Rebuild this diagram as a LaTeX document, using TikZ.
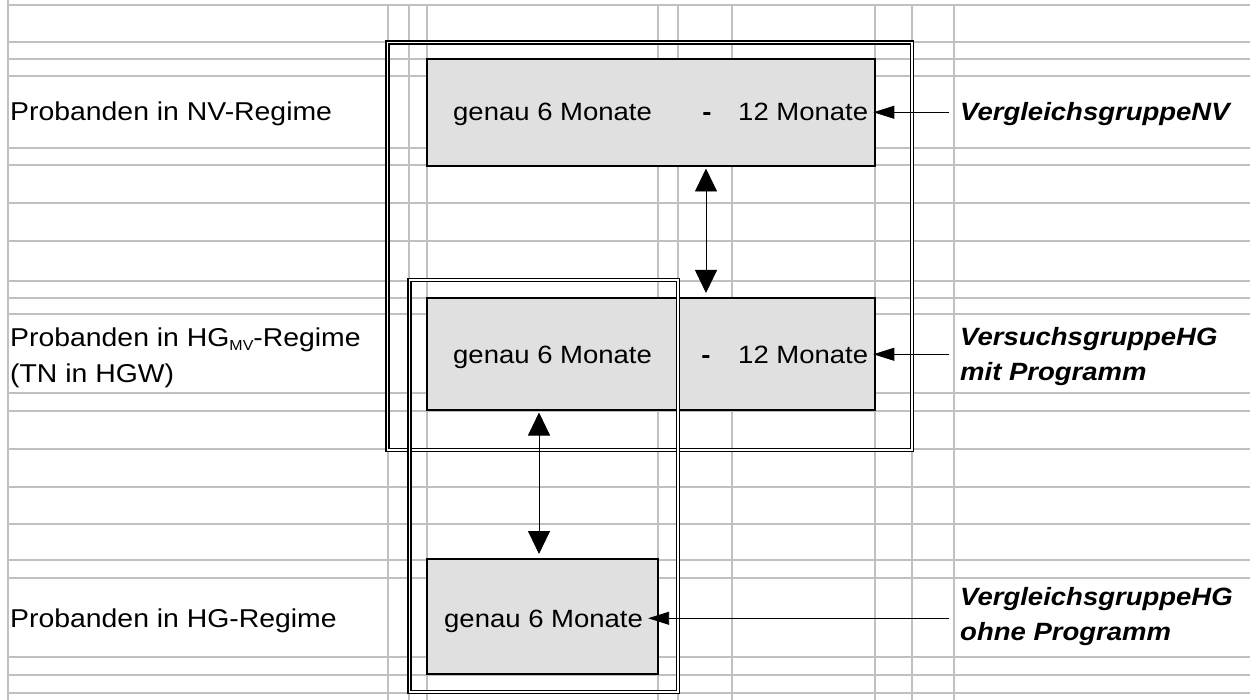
\documentclass[tikz,border=0pt]{standalone}
\usepackage{fontspec}
\setmainfont[FakeStretch=1.1]{Liberation Sans}
\usetikzlibrary{arrows.meta}
\definecolor{gridgray}{HTML}{C0C0C0}
\definecolor{boxgray}{HTML}{E0E0E0}

\begin{document}
\begin{tikzpicture}[x=1pt,y=-1pt,
  gridline/.style={draw=gridgray,line width=1.7pt},
  cellbox/.style={draw=black,line width=2.2pt,fill=boxgray,inner sep=0pt,outer sep=0pt},
  frame/.style={draw=black,line width=1.7pt,double=white,double distance=1.4pt},
  txt/.style={font=\fontsize{25}{36}\selectfont,inner xsep=5pt,inner ysep=0pt,text depth=0pt,anchor=base west},
  rowlabel/.style={font=\fontsize{25.8}{36}\selectfont,align=left,inner sep=0pt,anchor=base west},
  grouplabel/.style={font=\fontsize{25}{35}\selectfont\bfseries\itshape,align=left,inner xsep=11pt,inner ysep=0pt,anchor=base west},
  dashmark/.style={font=\fontsize{25}{36}\selectfont\bfseries,inner sep=0pt,anchor=base},
  pair/.style={{Triangle[width=22pt,length=23pt]}-{Triangle[width=22pt,length=23pt]},line width=0.9pt,shorten <=2.5pt,shorten >=5pt},
  pointer/.style={-{Triangle[width=13pt,length=21pt]},line width=0.9pt},
]
\useasboundingbox (0,0) rectangle (1250,700);

% spreadsheet grid
\foreach \y in {5,42,59,76,148,165,203,241,281,298,314,393,411,449,487,524,560,578,657,675,693}
  \draw[gridline] (8,\y) -- (1250,\y);
\draw[gridline] (8,0) -- (8,700);
\foreach \x in {388,409,427,658,678,732,875,912,954}
  \draw[gridline] (\x,5) -- (\x,700);

% period boxes
\node[cellbox,minimum width=448pt,minimum height=107pt] (b1) at (651,112.5) {};
\node[cellbox,minimum width=448pt,minimum height=112pt] (b2) at (651,354) {};
\node[cellbox,minimum width=231pt,minimum height=115pt] (b3) at (542.5,616.5) {};

% texts inside the boxes
\node[txt] (t1a) at (448,121) {genau 6 Monate};
\node[dashmark] (t1d) at (707,121) {-};
\node[txt] (t1b) at (733,121) {12 Monate};
\node[txt] (t2a) at (448,363) {genau 6 Monate};
\node[dashmark] (t2d) at (706,363) {-};
\node[txt] (t2b) at (733,363) {12 Monate};
\node[txt] (t3a) at (439,627) {genau 6 Monate};

% row labels (multi-line nodes sit on their last baseline)
\node[rowlabel] (lnv) at (10,121) {Probanden in NV-Regime};
\node[rowlabel] (lmv) at (10,383) {Probanden in HG\raisebox{-4pt}{\fontsize{14.5}{14.5}\selectfont MV}-Regime\\(TN in HGW)};
\node[rowlabel] (lhg) at (10,627) {Probanden in HG-Regime};

% group labels
\node[grouplabel] (r1) at (949,121) {VergleichsgruppeNV};
\node[grouplabel] (r2) at (949,381) {VersuchsgruppeHG\\mit Programm};
\node[grouplabel] (r3) at (949,640) {VergleichsgruppeHG\\ohne Programm};

% double frames
\draw[frame] (387.5,42.5) rectangle (912,450);
\draw[frame] (409.5,280) rectangle (678,692);

% comparison arrows
\coordinate (c1) at (706,0);
\coordinate (c2) at (539,0);
\draw[pair] (b1.south -| c1) -- (b2.north -| c1);
\draw[pair] (b2.south -| c2) -- (b3.north -| c2);

% pointers from the group labels
\draw[pointer] (r1.west |- t1b.east) -- (t1b.east);
\draw[pointer] (r2.west |- t2b.east) -- (t2b.east);
\draw[pointer] (r3.west |- t3a.east) -- (t3a.east);
\end{tikzpicture}
\end{document}
